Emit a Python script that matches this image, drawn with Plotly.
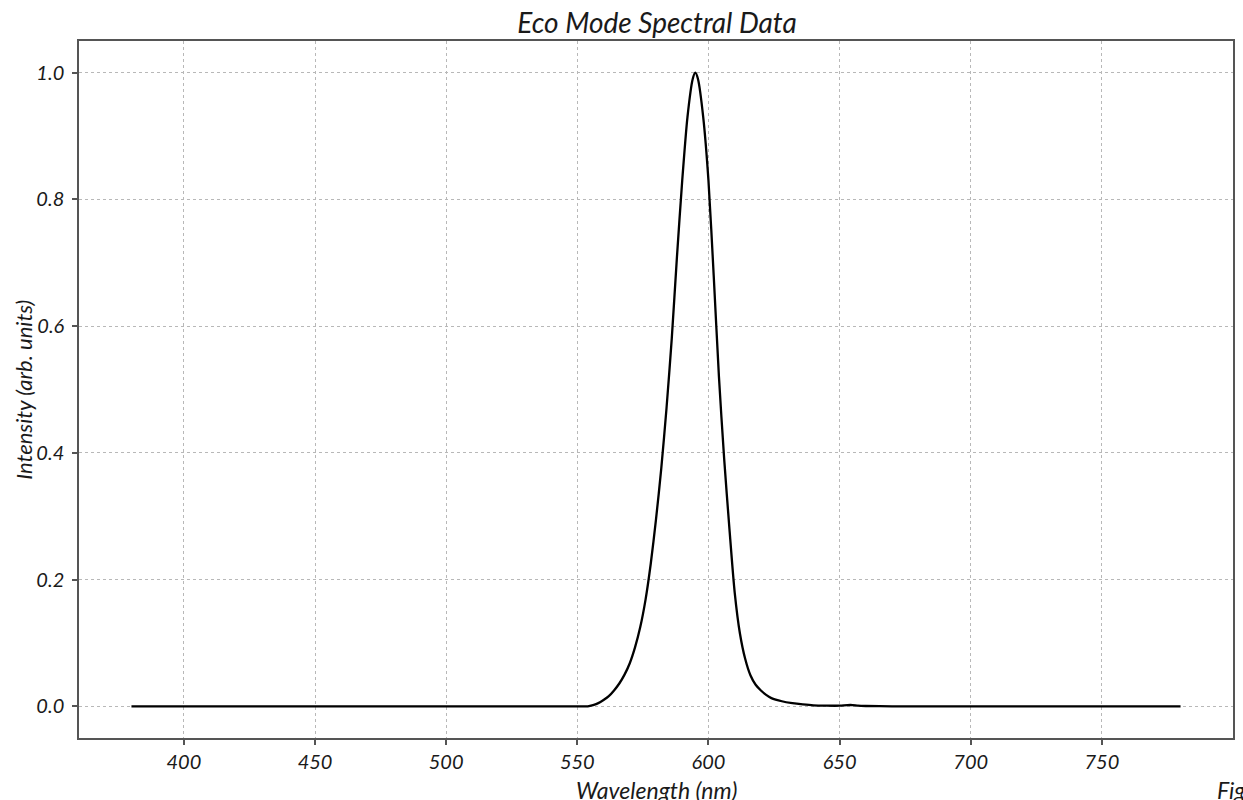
import plotly.graph_objects as go

# Data
wavelength_nm = [380, 400, 450, 500, 540, 550, 554, 556, 558, 560, 562, 564, 566, 568, 570,
                 572, 574, 576, 578, 580, 582, 584, 586, 588, 590, 592, 594, 595, 596, 598,
                 600, 602, 604, 606, 608, 610, 612, 614, 616, 618, 620, 622, 624, 628, 632,
                 636, 640, 645, 650, 653, 655, 657, 660, 670, 680, 700, 750, 780]
intensity = [0.0, 0.0, 0.0, 0.0, 0.0, 0.0, 0.0, 0.002, 0.005, 0.01, 0.016, 0.025, 0.036, 0.05, 0.068,
             0.093, 0.125, 0.168, 0.225, 0.295, 0.375, 0.47, 0.58, 0.71, 0.83, 0.93, 0.99, 1.0, 0.99, 0.93,
             0.83, 0.68, 0.52, 0.39, 0.28, 0.18, 0.115, 0.075, 0.049, 0.034, 0.025, 0.018, 0.013, 0.008, 0.005,
             0.003, 0.0015, 0.001, 0.001, 0.002, 0.002, 0.001, 0.0005, 0.0, 0.0, 0.0, 0.0, 0.0]

x_ticks = [400, 450, 500, 550, 600, 650, 700, 750]
y_ticks = [0.0, 0.2, 0.4, 0.6, 0.8, 1.0]
y_tick_labels = ["0.0", "0.2", "0.4", "0.6", "0.8", "1.0"]

title_text = "Eco Mode Spectral Data"
x_title = "Wavelength (nm)"
y_title = "Intensity (arb. units)"
fig_caption = "Figure 1"

FONT = "Lato, 'Open Sans', sans-serif"
AXIS_COLOR = "#555555"
GRID_COLOR = "#b8b8b8"
TEXT_COLOR = "#1a1a1a"

fig = go.Figure()
fig.add_trace(go.Scatter(
    x=wavelength_nm, y=intensity, mode="lines",
    line=dict(color="black", width=2.3, shape="spline", smoothing=0.7),
    showlegend=False, hoverinfo="x+y",
))

axis_common = dict(
    showline=True, mirror=True, linecolor=AXIS_COLOR, linewidth=1.5,
    showgrid=True, gridcolor=GRID_COLOR, gridwidth=1, griddash="dot",
    zeroline=False, ticks="outside", ticklen=5, tickwidth=1.5, tickcolor=AXIS_COLOR,
    tickfont=dict(family=FONT, size=20, color=TEXT_COLOR, style="italic"),
)

fig.update_xaxes(range=[360, 800], tickvals=x_ticks, **axis_common)
fig.update_yaxes(range=[-0.05, 1.05], tickvals=y_ticks, ticktext=y_tick_labels,
                 ticklabelstandoff=4, **axis_common)

fig.update_layout(
    width=1243, height=800,
    margin=dict(l=79, r=8, t=41, b=62),
    paper_bgcolor="white", plot_bgcolor="white",
    font=dict(family=FONT, color=TEXT_COLOR, style="italic"),
    title=dict(text=title_text, x=0.5286, xanchor="center", y=0.983, yanchor="top",
               font=dict(family=FONT, size=28, color=TEXT_COLOR, style="italic")),
    annotations=[
        dict(text=x_title, xref="paper", yref="paper", x=0.5, y=-0.0513,
             xanchor="center", yanchor="top", showarrow=False,
             font=dict(family=FONT, size=23, color=TEXT_COLOR, style="italic")),
        dict(text=y_title, xref="paper", yref="paper", x=-0.0484, y=0.5,
             xanchor="center", yanchor="middle", textangle=-90, showarrow=False,
             font=dict(family=FONT, size=22, color=TEXT_COLOR, style="italic")),
        dict(text=fig_caption, xref="paper", yref="paper", x=0.9844, y=-0.052,
             xanchor="left", yanchor="top", showarrow=False,
             font=dict(family=FONT, size=23, color=TEXT_COLOR, style="italic")),
    ],
)

fig.write_html("out.html", config={"displayModeBar": False},
               post_script="document.body.style.margin='0px';")
